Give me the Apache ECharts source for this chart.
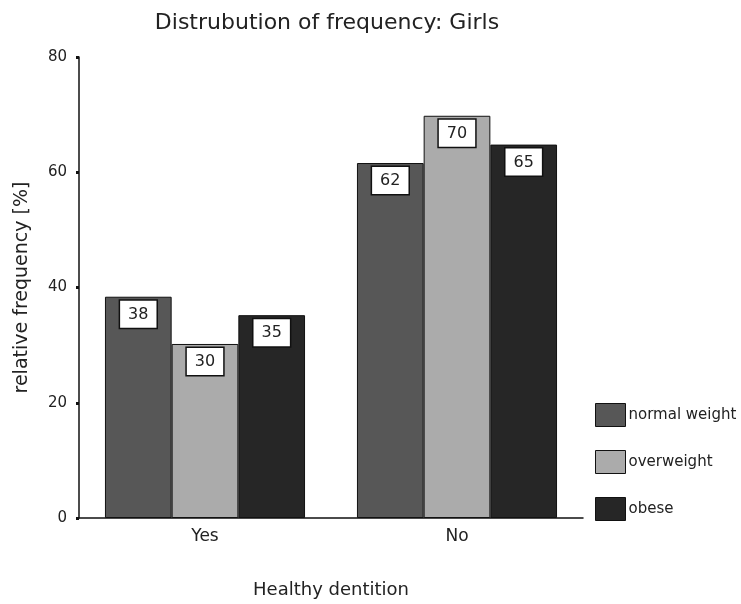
<!DOCTYPE html>
<html><head><meta charset="utf-8">
<script src="https://cdn.jsdelivr.net/npm/echarts@6/dist/echarts.min.js"></script>
<style>html,body{margin:0;padding:0;background:#fff}#c{width:741px;height:604px}</style>
</head><body><div id="c"></div>
<script>
var categories = ['Yes', 'No'];
var normalWeight = [38.4, 61.6];
var overweight = [30.2, 69.8];
var obese = [35.2, 64.8];
var seriesNames = ['normal weight', 'overweight', 'obese'];
var yTicks = [0, 20, 40, 60, 80];

var colors = ['#575757', '#ababab', '#262626'];
var font = 'DejaVu Sans, sans-serif';
var chart = echarts.init(document.getElementById('c'));
function mk(name, data, i) {
  return {
    name: name, type: 'bar', data: data, barGap: '0%', barCategoryGap: '20.6%',
    itemStyle: { color: colors[i], borderColor: '#111', borderWidth: 1 },
    label: {
      show: true, position: 'insideTop', distance: 4,
      formatter: function (p) { return Math.round(p.value); },
      backgroundColor: '#fff', borderColor: '#111', borderWidth: 1.5,
      padding: [6, 8, 5, 8], color: '#222', fontSize: 16, fontFamily: font
    }
  };
}
chart.setOption({
  animation: false,
  backgroundColor: '#fff',
  title: {
    text: 'Distrubution of frequency: Girls', left: 322, top: 7, textAlign: 'center',
    textStyle: { fontSize: 22, fontWeight: 'normal', color: '#222', fontFamily: font }
  },
  legend: {
    orient: 'vertical', left: 590, top: 398, itemWidth: 30, itemHeight: 23, itemGap: 23,
    icon: 'rect', itemStyle: { borderColor: '#111', borderWidth: 1 },
    textStyle: { fontSize: 15, color: '#222', fontFamily: font, padding: [0, 0, 0, -2] },
    data: seriesNames
  },
  grid: { left: 79, right: 158, top: 57, bottom: 86 },
  xAxis: {
    type: 'category', data: categories,
    name: 'Healthy dentition', nameLocation: 'middle', nameGap: 63,
    nameTextStyle: { fontSize: 18, color: '#222', fontFamily: font },
    axisLine: { lineStyle: { color: '#111', width: 1.5 } },
    axisTick: { show: false },
    axisLabel: { fontSize: 17, color: '#222', margin: 10, fontFamily: font }
  },
  yAxis: {
    type: 'value', min: 0, max: 80, interval: 20,
    name: 'relative frequency [%]', nameLocation: 'middle', nameGap: 47,
    nameTextStyle: { fontSize: 19, color: '#222', fontFamily: font },
    axisLine: { show: true, lineStyle: { color: '#111', width: 1.5 } },
    axisTick: { show: true, length: 3, lineStyle: { color: '#111', width: 3 } },
    splitLine: { show: false },
    axisLabel: { fontSize: 15, color: '#222', margin: 12, fontFamily: font,
      formatter: function (v) { return yTicks.indexOf(v) >= 0 ? String(v) : ''; } }
  },
  series: [mk(seriesNames[0], normalWeight, 0), mk(seriesNames[1], overweight, 1), mk(seriesNames[2], obese, 2)]
});
</script></body></html>
